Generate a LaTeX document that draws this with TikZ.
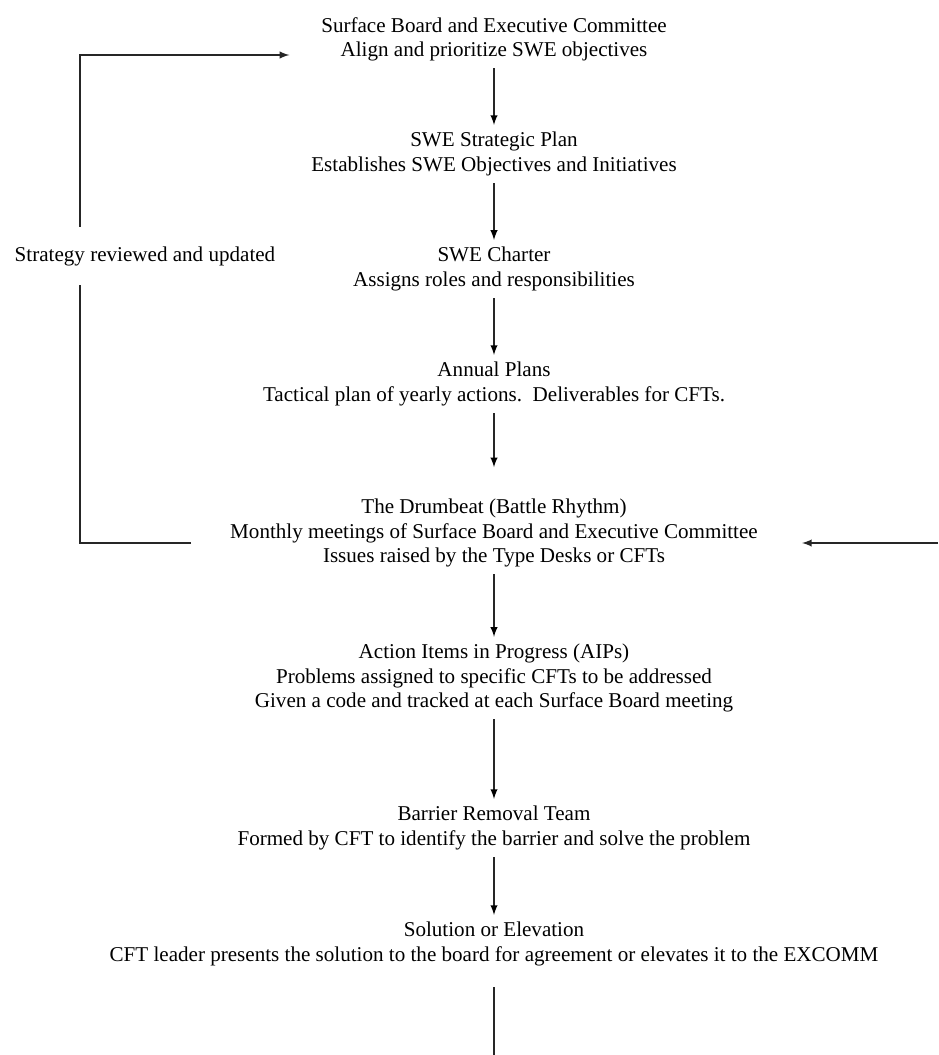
\documentclass[tikz,border=0pt]{standalone}
\usepackage{fontspec}
\setmainfont{Liberation Serif}
\usepackage{tikz}

\tikzset{
	stage/.style={align=center, inner sep=4pt, font=\fontsize{12}{13.8}\selectfont},
	flow/.style={->, >=latex, line width=0.9pt, draw=black!85},
	loop/.style={line width=0.9pt, draw=black!85}
}

\begin{document}
\begin{tikzpicture}[x=0.02cm, y=-0.02cm]
	\useasboundingbox (0,0) rectangle (938,1055);

	\node[stage] (sb) at (494, 39)  {Surface Board and Executive Committee\\Align and prioritize SWE objectives};
	\node[stage] (sp) at (494, 154) {SWE Strategic Plan\\Establishes SWE Objectives and Initiatives};
	\node[stage] (ch) at (494, 269) {SWE Charter\\Assigns roles and responsibilities};
	\node[stage] (ap) at (494, 384) {Annual Plans\\Tactical plan of yearly actions.\ \ Deliverables for CFTs.};
	\node[stage] (db) at (494, 533) {The Drumbeat (Battle Rhythm)\\Monthly meetings of Surface Board and Executive Committee\\Issues raised by the Type Desks or CFTs};
	\node[stage] (ai) at (494, 678) {Action Items in Progress (AIPs)\\Problems assigned to specific CFTs to be addressed\\Given a code and tracked at each Surface Board meeting};
	\node[stage] (br) at (494, 828) {Barrier Removal Team\\Formed by CFT to identify the barrier and solve the problem};
	\node[stage] (se) at (494, 944) {Solution or Elevation\\CFT leader presents the solution to the board for agreement or elevates it to the EXCOMM};

	\node[stage, inner ysep=11pt] (su) at (145, 256) {Strategy reviewed and updated};

	\coordinate (tl) at (80, 55);
	\coordinate (bl) at (80, 543);
	\coordinate (re) at (938, 543);
	\coordinate (be) at (494, 1055);

	\path[flow] (sb) edge (sp);
	\path[flow] (sp) edge (ch);
	\path[flow] (ch) edge (ap);
	\path[flow, shorten >=14pt] (ap) edge (db);
	\path[flow] (db) edge (ai);
	\path[flow] (ai) edge (br);
	\path[flow] (br) edge (se);

	\draw[loop, shorten <=18pt] (db.west |- bl) -- (bl) -- (bl |- su.south);
	\draw[flow, shorten >=14pt] (bl |- su.north) -- (tl) -- (sb.west |- tl);
	\draw[flow, shorten >=21pt] (re) -- (db.east |- re);
	\draw[loop, shorten <=8pt] (se) -- (be);

\end{tikzpicture}
\end{document}
